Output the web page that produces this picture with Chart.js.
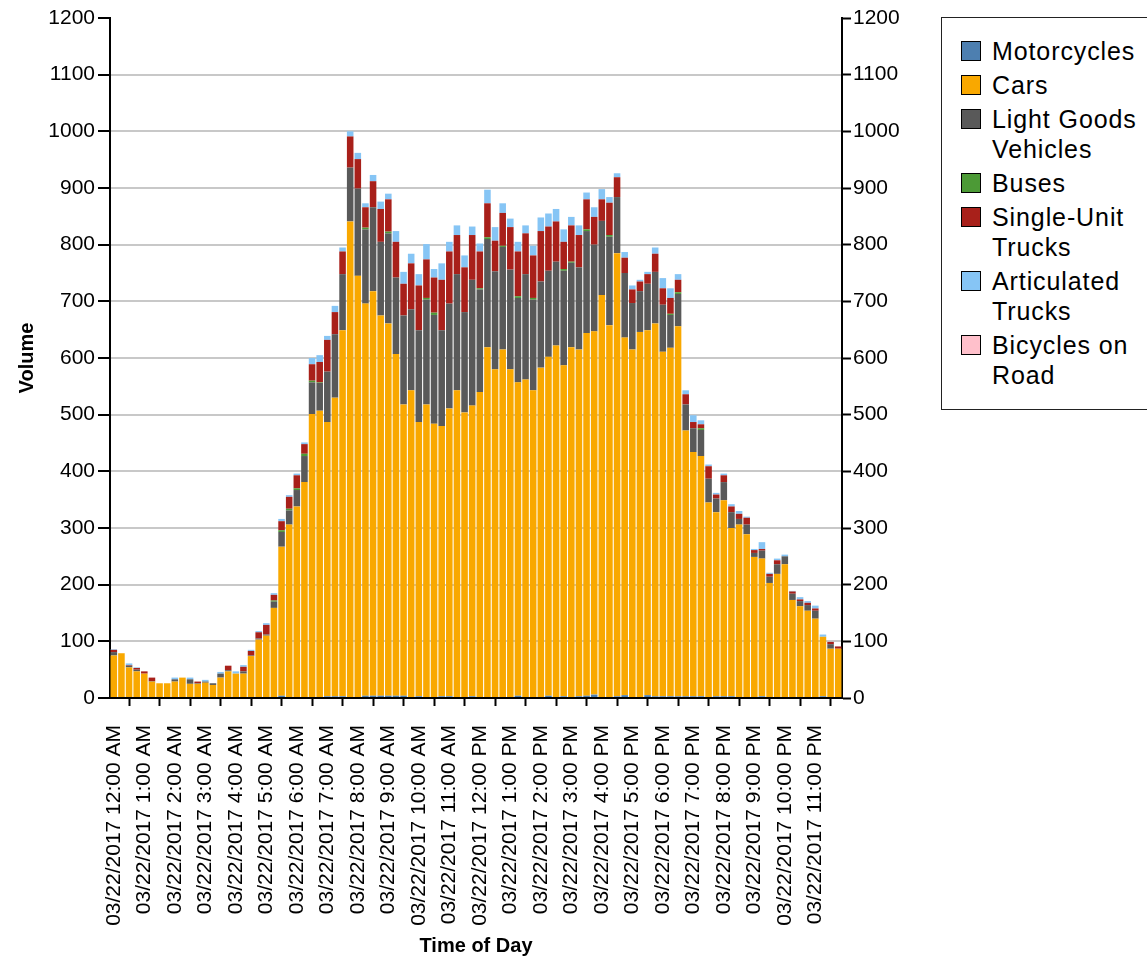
<!DOCTYPE html>
<html>
<head>
<meta charset="utf-8">
<title>Volume by Time of Day</title>
<script src="https://cdn.jsdelivr.net/npm/chart.js@4/dist/chart.umd.min.js"></script>
<style>
  body { margin: 0; background: #fff; }
  #wrap { position: relative; width: 1147px; height: 962px; overflow: hidden; }
  #leyenda {
    position: absolute; left: 941px; top: 17px; width: 230px; height: 393px;
    box-sizing: border-box; border: 1px solid #222; background: #fff;
    padding: 18px 0 0 19px;
    font-family: "Liberation Sans", Arial, sans-serif; font-size: 25px;
    letter-spacing: 0.9px; color: #000;
  }
  .item { display: flex; align-items: flex-start; line-height: 30px; margin-bottom: 4px; }
  .cuadro { width: 18px; height: 18px; border: 1px solid #000; margin: 5px 11px 0 0; flex: none; }
  .texto { width: 150px; }
</style>
</head>
<body>
<div id="wrap">
  <canvas id="grafico" width="1147" height="962"></canvas>
  <div id="leyenda"></div>
</div>
<script>
// etiquetas de hora (una por hora, 4 barras de 15 min por hora)
const hourLabels = [
  "03/22/2017 12:00 AM", "03/22/2017 1:00 AM", "03/22/2017 2:00 AM", "03/22/2017 3:00 AM",
  "03/22/2017 4:00 AM", "03/22/2017 5:00 AM", "03/22/2017 6:00 AM", "03/22/2017 7:00 AM",
  "03/22/2017 8:00 AM", "03/22/2017 9:00 AM", "03/22/2017 10:00 AM", "03/22/2017 11:00 AM",
  "03/22/2017 12:00 PM", "03/22/2017 1:00 PM", "03/22/2017 2:00 PM", "03/22/2017 3:00 PM",
  "03/22/2017 4:00 PM", "03/22/2017 5:00 PM", "03/22/2017 6:00 PM", "03/22/2017 7:00 PM",
  "03/22/2017 8:00 PM", "03/22/2017 9:00 PM", "03/22/2017 10:00 PM", "03/22/2017 11:00 PM"
];
const quarters = [":00", ":15", ":30", ":45"];
const timeLabels = [];
hourLabels.forEach(function (h) {
  quarters.forEach(function (q) { timeLabels.push(h.replace(":00", q)); });
});

const seriesNames = ["Motorcycles", "Cars", "Light Goods Vehicles", "Buses",
  "Single-Unit Trucks", "Articulated Trucks", "Bicycles on Road"];
const seriesColors = ["#4d7fb0", "#f9a800", "#595959", "#4c9a36", "#a8201a", "#86c5f5", "#ffc0cb"];

const motorcycles = [
  0, 0, 0, 0, 0, 0, 0, 0,   0, 0, 0, 0, 0, 0, 0, 0,
  0, 0, 0, 0, 0, 0, 4, 0,   0, 0, 0, 0, 3, 3, 3, 0,
  0, 4, 4, 4, 4, 4, 4, 0,   3, 0, 0, 3, 3, 0, 0, 3,
  0, 0, 0, 0, 0, 4, 0, 0,   0, 4, 0, 3, 0, 3, 4, 6,
  0, 0, 3, 5, 0, 0, 5, 3,   3, 3, 3, 3, 3, 3, 0, 3,
  3, 3, 0, 0, 0, 3, 0, 0,   0, 0, 0, 0, 0, 3, 0, 0
];
const cars = [
  75, 79, 54, 47, 43, 29, 26, 26,   29, 36, 25, 25, 27, 23, 36, 47,
  43, 43, 74, 103, 110, 159, 263, 306,   338, 381, 501, 507, 484, 527, 646, 841,
  745, 692, 714, 671, 657, 603, 514, 543,   484, 518, 484, 477, 508, 543, 504, 513,
  540, 619, 580, 615, 580, 553, 562, 543,   583, 598, 622, 584, 619, 612, 640, 641,
  711, 658, 782, 631, 615, 646, 644, 658,   608, 615, 653, 469, 431, 424, 345, 325,
  346, 297, 306, 289, 249, 243, 203, 219,   236, 173, 162, 154, 140, 105, 87, 87
];
const lightGoods = [
  6, 0, 3, 3, 0, 1, 0, 0,   4, 0, 8, 1, 2, 3, 7, 2,
  0, 4, 1, 2, 2, 11, 26, 25,   29, 46, 56, 49, 89, 112, 99, 95,
  154, 131, 148, 130, 159, 135, 157, 143,   162, 185, 192, 169, 185, 205, 177, 222,
  181, 191, 173, 181, 176, 149, 186, 160,   152, 152, 148, 167, 149, 145, 180, 153,
  131, 156, 99, 114, 82, 72, 82, 91,   83, 58, 57, 46, 42, 46, 42, 24,
  32, 28, 10, 17, 7, 14, 11, 17,   14, 11, 9, 10, 14, 0, 8, 0
];
const buses = [
  0, 0, 0, 0, 0, 0, 0, 0,   0, 0, 0, 0, 0, 0, 0, 0,
  0, 0, 0, 0, 0, 2, 3, 3,   3, 4, 3, 1, 0, 0, 0, 0,
  0, 3, 0, 0, 3, 0, 0, 0,   0, 3, 4, 0, 0, 0, 0, 0,
  2, 3, 0, 2, 0, 3, 0, 3,   0, 0, 0, 3, 2, 0, 3, 0,
  0, 3, 0, 0, 0, 0, 0, 0,   0, 2, 3, 0, 0, 3, 0, 0,
  0, 0, 0, 0, 0, 0, 0, 0,   0, 0, 0, 0, 0, 0, 0, 0
];
const singleUnit = [
  4, 0, 1, 3, 4, 6, 0, 0,   0, 0, 0, 3, 0, 0, 0, 8,
  0, 8, 8, 11, 17, 10, 16, 21,   23, 17, 29, 36, 56, 39, 40, 55,
  52, 36, 46, 58, 57, 63, 56, 81,   79, 68, 62, 89, 92, 69, 79, 79,
  65, 60, 54, 58, 75, 79, 72, 75,   89, 78, 71, 48, 64, 57, 53, 49,
  38, 57, 35, 27, 24, 17, 17, 32,   29, 28, 22, 18, 11, 7, 22, 7,
  12, 10, 9, 12, 5, 3, 5, 7,   0, 4, 3, 4, 4, 0, 4, 4
];
const articulated = [
  1, 0, 3, 1, 0, 0, 0, 0,   3, 0, 3, 0, 3, 0, 3, 0,
  4, 3, 2, 2, 3, 3, 4, 3,   3, 3, 11, 12, 7, 11, 7, 9,
  11, 7, 11, 13, 10, 19, 21, 17,   20, 27, 15, 29, 17, 17, 21, 15,
  14, 24, 24, 17, 15, 17, 14, 17,   24, 23, 22, 22, 15, 17, 12, 17,
  18, 10, 7, 10, 7, 3, 4, 11,   18, 17, 10, 7, 12, 7, 3, 3,
  3, 4, 5, 2, 2, 12, 2, 3,   3, 1, 4, 3, 5, 4, 0, 0
];
const bicycles = [
  0, 0, 0, 0, 0, 0, 0, 0,   0, 0, 0, 0, 0, 0, 0, 0,
  0, 0, 0, 0, 0, 0, 0, 0,   0, 0, 0, 0, 0, 0, 0, 0,
  0, 0, 0, 0, 0, 0, 0, 0,   0, 0, 0, 0, 0, 0, 0, 0,
  0, 0, 0, 0, 0, 0, 0, 0,   0, 0, 0, 0, 0, 0, 0, 0,
  0, 0, 0, 0, 0, 0, 0, 0,   0, 0, 0, 0, 0, 0, 0, 0,
  0, 0, 0, 0, 0, 0, 0, 0,   0, 0, 0, 0, 0, 0, 0, 0
];
const seriesData = [motorcycles, cars, lightGoods, buses, singleUnit, articulated, bicycles];

const yTicks = { min: 0, max: 1200, step: 100 };

Chart.defaults.font.family = '"Liberation Sans", Arial, sans-serif';
Chart.defaults.color = "#000";

// sin separador de miles (1200, no 1,200)
function sinComa(value) {
    return String(value);
}

function cargaGrafico() {
    const datasets = seriesNames.map(function (name, i) {
        return {
            label: name,
            data: seriesData[i],
            backgroundColor: seriesColors[i],
            borderWidth: 0
        };
    });

    const config = {
        type: "bar",
        data: { labels: timeLabels, datasets: datasets },
        options: {
            responsive: false,
            animation: false,
            layout: { padding: { top: 18, left: 0, right: 0, bottom: 0 } },
            datasets: { bar: { barPercentage: 0.86, categoryPercentage: 1.0 } },
            plugins: {
                legend: { display: false },
                tooltip: { enabled: false }
            },
            scales: {
                x: {
                    stacked: true,
                    grid: { drawOnChartArea: false, tickLength: 8, tickColor: "#000", tickWidth: 2 },
                    border: { color: "#000", width: 2 },
                    ticks: {
                        autoSkip: false,
                        maxRotation: 90,
                        minRotation: 90,
                        padding: 19,
                        font: { size: 21 },
                        // solo una etiqueta por hora
                        callback: function (v, i) { return i % 4 === 0 ? timeLabels[i] : null; }
                    },
                    title: {
                        display: true,
                        text: "Time of Day",
                        font: { size: 20, weight: "bold" },
                        padding: { top: 0, bottom: 4 }
                    },
                    afterFit: function (s) { s.height = 264; }
                },
                y: {
                    stacked: true,
                    min: yTicks.min,
                    max: yTicks.max,
                    ticks: { stepSize: yTicks.step, padding: 3, font: { size: 21 }, callback: sinComa },
                    grid: {
                        color: function (c) {
                            return (c.tick.value === 0 || c.tick.value === 1200) ? "rgba(0,0,0,0)" : "#c8c8c8";
                        },
                        lineWidth: 2,
                        tickColor: "#000",
                        tickLength: 12,
                        tickWidth: 2
                    },
                    border: { color: "#000", width: 2 },
                    title: {
                        display: true,
                        text: "Volume",
                        font: { size: 20, weight: "bold" },
                        padding: { top: 15, bottom: 0 }
                    },
                    afterFit: function (s) { s.width = 110; }
                },
                y2: {
                    position: "right",
                    min: yTicks.min,
                    max: yTicks.max,
                    ticks: { stepSize: yTicks.step, padding: 2, font: { size: 21 }, callback: sinComa },
                    grid: { drawOnChartArea: false, tickColor: "#000", tickLength: 9, tickWidth: 2 },
                    border: { color: "#000", width: 2 },
                    afterFit: function (s) { s.width = 305; }
                }
            }
        }
    };

    const ctx = document.getElementById("grafico").getContext("2d");
    const chart = new Chart(ctx, config);

    // leyenda en HTML, a partir de los datasets
    const leyenda = document.getElementById("leyenda");
    chart.data.datasets.forEach(function (ds) {
        const item = document.createElement("div");
        item.className = "item";
        const cuadro = document.createElement("span");
        cuadro.className = "cuadro";
        cuadro.style.backgroundColor = ds.backgroundColor;
        const texto = document.createElement("span");
        texto.className = "texto";
        texto.textContent = ds.label;
        item.appendChild(cuadro);
        item.appendChild(texto);
        leyenda.appendChild(item);
    });
}

cargaGrafico();
</script>
</body>
</html>
